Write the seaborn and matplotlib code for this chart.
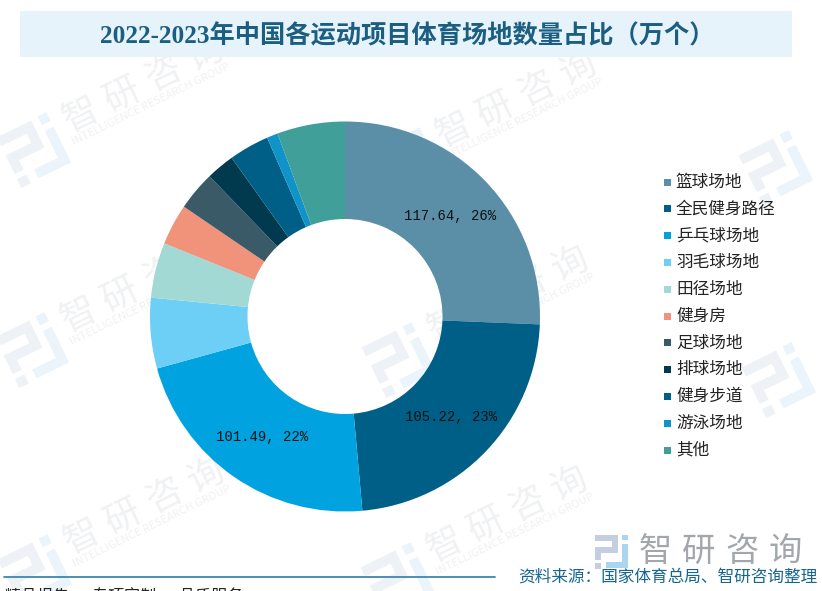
import numpy as np
import matplotlib
matplotlib.use("Agg")
import matplotlib.pyplot as plt
from matplotlib.patches import Rectangle
import seaborn as sns

categories = ['篮球场地', '全民健身路径', '乒乓球场地', '羽毛球场地', '田径场地', '健身房',
              '足球场地', '排球场地', '健身步道', '游泳场地', '其他']
values = [117.64, 105.22, 101.49, 26.8, 21.0, 15.6, 14.9, 10.8, 15.3, 4.2, 25.8]
colors = ['#5B8FA8', '#005F86', '#00A3DF', '#6DCFF6', '#A3D9D4', '#F0937A',
          '#3B5A68', '#01394F', '#005F86', '#0F93C8', '#419F9A']
shown_labels = {0: '117.64, 26%', 1: '105.22, 23%', 2: '101.49, 22%'}

title = '2022-2023年中国各运动项目体育场地数量占比（万个）'
source = '资料来源：国家体育总局、智研咨询整理'
slogan = '精品报告 · 专项定制 · 品质服务'
brand = '智研咨询'
brand_en = 'INTELLIGENCE RESEARCH GROUP'

sns.set_theme(style='white')
plt.rcParams['font.family'] = ['Noto Sans CJK SC', 'DejaVu Sans']

W, H = 822, 591
fig = plt.figure(figsize=(W / 100, H / 100), dpi=100, facecolor='white')

# everything outside the donut is placed in pixel coordinates of the picture
bg = fig.add_axes([0, 0, 1, 1], zorder=0)
bg.set_xlim(0, W)
bg.set_ylim(H, 0)
bg.axis('off')


def draw_logo(x, y, size, angle, grey, blue):
    # logo desenhado em coordenadas locais (0-1), girado em torno do centro
    a = np.radians(angle)

    def stroke(pts, color, lw):
        pts = (np.array(pts) - 0.5) * size
        px = x + pts[:, 0] * np.cos(a) - pts[:, 1] * np.sin(a)
        py = y + pts[:, 0] * np.sin(a) + pts[:, 1] * np.cos(a)
        bg.plot(px, py, color=color, lw=lw, solid_capstyle='butt', solid_joinstyle='miter')

    lw = size * 0.17 * 0.72
    stroke([(0, 0.1), (0.58, 0.1), (0.58, 0.45), (0.09, 0.45), (0.09, 0.72)], grey, lw)
    stroke([(0, 0.9), (0.18, 0.9)], grey, lw)
    stroke([(0.88, 0), (0.88, 0.17)], blue, lw)
    stroke([(0.88, 0.28), (0.88, 0.88), (0.34, 0.88)], blue, lw)


# --------- marca d'agua
wm_angle = 26
wm_rad = np.radians(wm_angle)
full_marks = [(35, 150), (408, 165), (33, 350), (400, 360), (36, 572), (399, 580)]
logo_only = [(777, 168), (780, 380)]
for x, y in full_marks + logo_only:
    draw_logo(x, y, 58, -wm_angle, '#EEF1F6', '#EAF4FA')
for x, y in full_marks:
    for i, ch in enumerate(brand):
        bg.text(x + 46 + i * 46 * np.cos(wm_rad), y - 35 - i * 46 * np.sin(wm_rad), ch,
                fontsize=26, color='#F0F1F3', rotation=wm_angle, ha='center', va='center',
                rotation_mode='anchor')
    bg.text(x + 116, y - 46, brand_en, fontsize=8, color='#F0F1F3', rotation=wm_angle,
            ha='center', va='center', rotation_mode='anchor')

# --------- titulo
bg.add_patch(Rectangle((20, 11), 772, 46, fc='#E6F3FB', ec='none', zorder=3))
bg.text(407, 36, title, fontsize=18.2, color='#1B5E82', ha='center', va='center', zorder=4,
        family=['Liberation Serif', 'Noto Sans CJK SC'], fontweight='bold')

# --------- rodape
draw_logo(612, 552, 35, 0, '#C5CEE0', '#A9D5EE')
for i, ch in enumerate(brand):
    bg.text(655 + i * 43.5, 551, ch, fontsize=24, color='#A3A7AB', ha='center', va='center')
bg.plot([4, 495], [576.5, 576.5], color='#3E86AE', lw=1.3)
bg.text(5, 597, slogan, fontsize=11.5, color='#222222', ha='left', va='center')
bg.text(817, 577.5, source, fontsize=12, color='#17668F', ha='right', va='center')

# --------- rosca
cx, cy, r = 345, 316.5, 195
ax = fig.add_axes([(cx - r) / W, 1 - (cy + r) / H, 2 * r / W, 2 * r / H], zorder=1)
ax.patch.set_alpha(0)
wedges, _ = ax.pie(values, colors=colors, startangle=90, counterclock=False, radius=1,
                   wedgeprops={'width': 0.5, 'linewidth': 0})
ax.set_xlim(-1, 1)
ax.set_ylim(-1, 1)

label_pos = {0: (450, 216), 1: (451, 417), 2: (262, 437)}
for i, text in shown_labels.items():
    px, py = label_pos[i]
    ax.text((px - cx) / r, (cy - py) / r, text, fontsize=10, color='#111111',
            ha='center', va='center', family=['Liberation Mono', 'DejaVu Sans'])

# --------- legenda
leg_y0, leg_step = 182, 26.8
for i, (name, color) in enumerate(zip(categories, colors)):
    y = leg_y0 + i * leg_step
    bg.add_patch(Rectangle((663.5, y - 3.5), 7, 7, fc=color, ec='none'))
    bg.text(676, y, name, fontsize=12, color='#222222', ha='left', va='center')

fig.savefig('out.png', dpi=100)
